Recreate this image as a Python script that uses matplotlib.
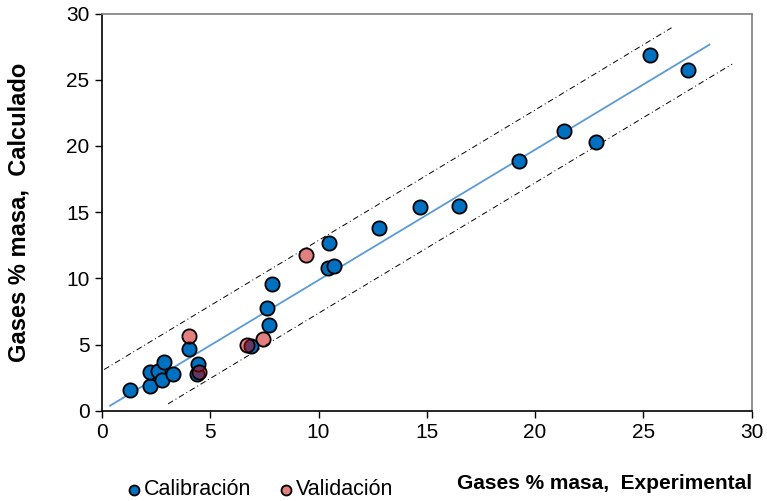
import numpy as np
import matplotlib.pyplot as plt

plt.rcParams['font.family'] = ['Liberation Sans', 'DejaVu Sans']

# Calibración points (experimental, calculated)
cal_exp = [1.3, 2.2, 2.2, 2.6, 2.75, 2.85, 3.3, 4.0, 4.4, 4.45, 6.9, 7.7,
           7.6, 7.85, 10.45, 10.5, 10.7, 12.8, 14.7, 16.5, 19.25, 21.35,
           22.8, 25.3, 27.05]
cal_calc = [1.55, 1.85, 2.95, 3.0, 2.35, 3.65, 2.8, 4.7, 2.8, 3.55, 4.9, 6.45,
            7.75, 9.6, 10.75, 12.65, 10.9, 13.8, 15.4, 15.5, 18.9, 21.15,
            20.3, 26.85, 25.7]

# Validación points
val_exp = [4.0, 4.5, 6.7, 7.45, 9.4]
val_calc = [5.65, 2.95, 4.95, 5.4, 11.75]

# regression line and confidence band
fit_slope = 0.985
fit_intercept = 0.02
band_up = 3.0
band_low = -2.5

fig = plt.figure(figsize=(7.67, 5.01), dpi=100)
ax = fig.add_axes([0.133, 0.18, 0.847, 0.793])

x_fit = np.array([0.37, 28.05])
ax.plot(x_fit, fit_slope * x_fit + fit_intercept, color='#5B9BD5', lw=1.3, zorder=2)
x_up = np.array([0.1, 26.3])
ax.plot(x_up, fit_slope * x_up + fit_intercept + band_up, color='black', lw=0.7,
        ls=(0, (6, 3, 1, 3)), zorder=2)
x_low = np.array([3.05, 29.1])
ax.plot(x_low, fit_slope * x_low + fit_intercept + band_low, color='black', lw=0.7,
        ls=(0, (6, 3, 1, 3)), zorder=2)

ax.scatter(cal_exp, cal_calc, s=105, facecolor='#0070C0', edgecolor='black',
           linewidth=1.3, zorder=3, label='Calibración')
ax.scatter(val_exp, val_calc, s=105, facecolor=(0.78, 0.0, 0.0, 0.5), edgecolor='black',
           linewidth=1.3, zorder=4, label='Validación')

ax.set_xlim(0, 30)
ax.set_ylim(0, 30)
ax.set_xticks(range(0, 31, 5))
ax.set_yticks(range(0, 31, 5))
ax.tick_params(labelsize=15, direction='out', length=5, width=1, pad=4)

for side in ['left', 'bottom']:
    ax.spines[side].set_color('black')
    ax.spines[side].set_linewidth(1.2)
for side in ['top', 'right']:
    ax.spines[side].set_color('#7F7F7F')
    ax.spines[side].set_linewidth(1.2)

ax.set_xlabel('Gases % masa,  Experimental', fontsize=15, fontweight='bold', ha='right')
ax.xaxis.set_label_coords(1.0, -0.158)
ax.set_ylabel('Gases % masa,  Calculado', fontsize=17, fontweight='bold', va='center')
ax.yaxis.set_label_coords(-0.128, 0.5)

fig.legend(loc='center', bbox_to_anchor=(0.338, 0.022), ncol=2, frameon=False,
           fontsize=15.5, markerscale=0.7, handletextpad=0.05, columnspacing=1.2,
           handlelength=0.8)

fig.savefig('out.png', dpi=100)
